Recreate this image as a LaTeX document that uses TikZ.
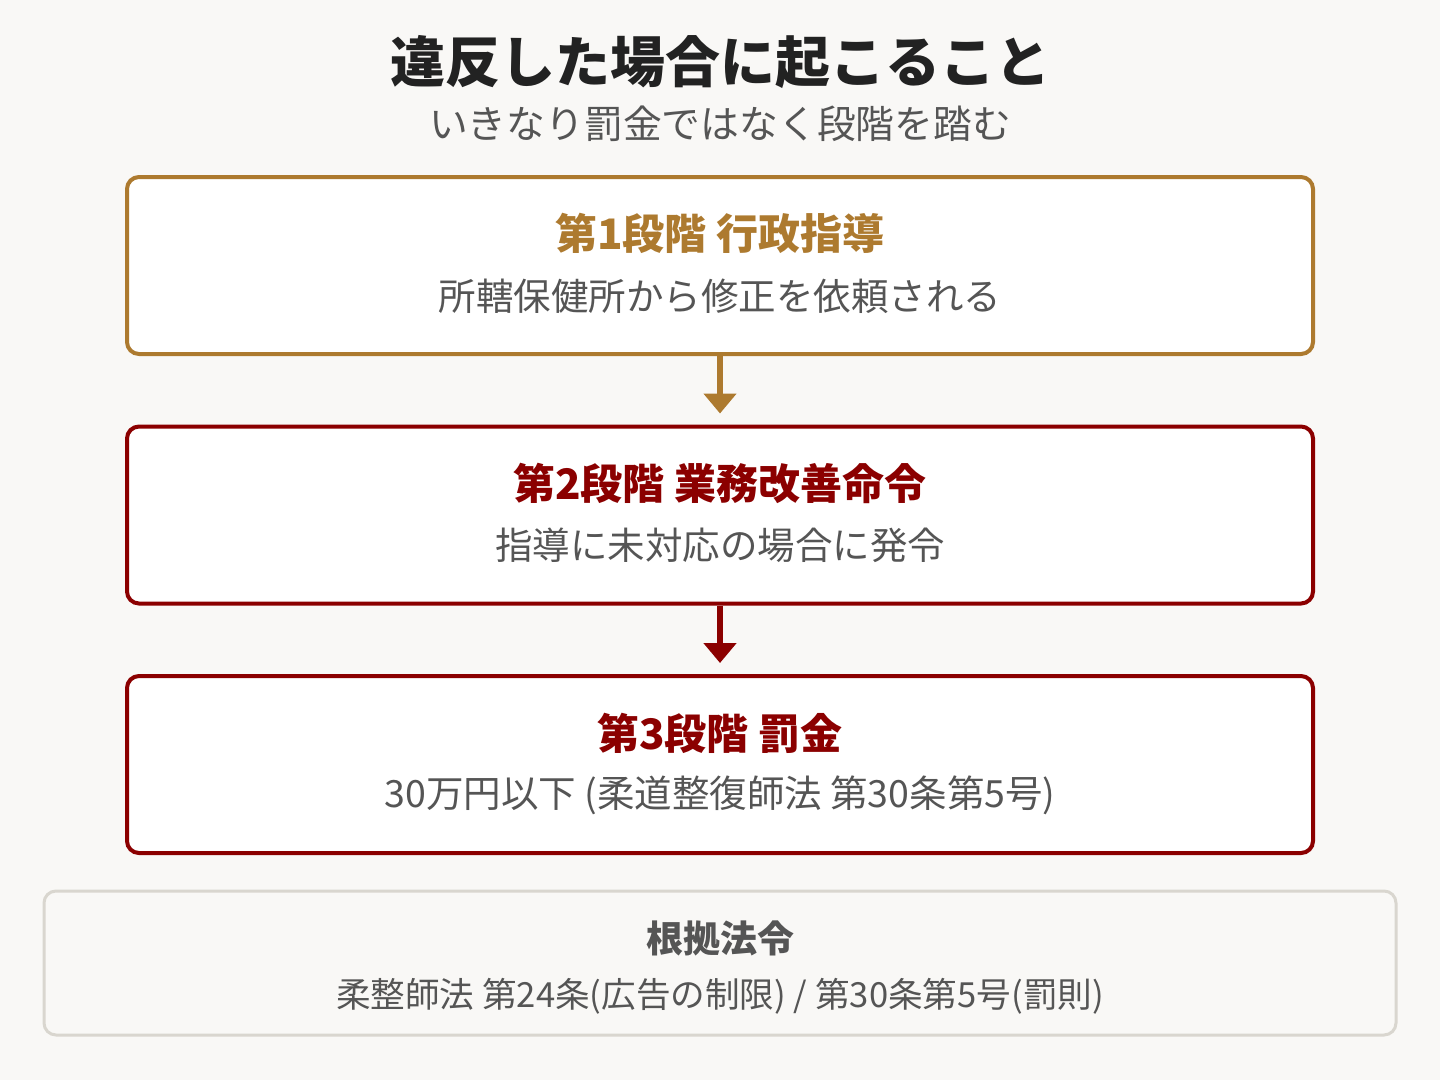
\documentclass[tikz,border=0pt]{standalone}
\usepackage{fontspec}
\setmainfont{Noto Sans CJK JP}
\usepackage{xcolor}
\usetikzlibrary{arrows.meta}

\definecolor{pagebg}{HTML}{F9F8F6}
\definecolor{gold}{HTML}{AD7A2F}
\definecolor{darkred}{HTML}{8B0000}
\definecolor{notegray}{HTML}{555555}
\definecolor{titleink}{HTML}{222222}
\definecolor{lawborder}{HTML}{D9D6CF}

\begin{document}
\begin{tikzpicture}[x=1pt, y=-1pt]
        % Define styles
        \tikzset{
            stage/.style={rectangle, rounded corners=12pt, line width=4pt, fill=white, minimum width=1186pt, minimum height=177pt, inner sep=0pt},
            lawbox/.style={rectangle, rounded corners=12pt, line width=3pt, draw=lawborder, fill=pagebg, minimum width=1352pt, minimum height=144pt, inner sep=0pt},
            stagetitle/.style={font=\bfseries\fontsize{42}{46}\selectfont, inner sep=0pt},
            stagenote/.style={text=notegray, font=\fontsize{37.5}{41}\selectfont, inner sep=0pt},
            arrow/.style={-{Triangle[width=32pt, length=20pt]}, line width=6pt, shorten >=11pt}
        }

        % Background
        \fill[pagebg] (0,0) rectangle (1440,1080);
        \useasboundingbox (0,0) rectangle (1440,1080);

        % Heading
        \node[text=titleink, font=\bfseries\fontsize{55}{60}\selectfont, inner sep=0pt] (main_title) at (720,62) {違反した場合に起こること};
        \node[text=notegray, font=\fontsize{38.8}{42}\selectfont, inner sep=0pt] (main_subtitle) at (720,124) {いきなり罰金ではなく段階を踏む};

        % Stages
        \node[stage, draw=gold] (stage_box_1) at (720,265.5) {};
        \node[stagetitle, text=gold] (stage_title_1) at (720,233) {第1段階 行政指導};
        \node[stagenote] (stage_note_1) at (720,296) {所轄保健所から修正を依頼される};

        \node[stage, draw=darkred] (stage_box_2) at (720,515) {};
        \node[stagetitle, text=darkred] (stage_title_2) at (720,483) {第2段階 業務改善命令};
        \node[stagenote] (stage_note_2) at (720,545) {指導に未対応の場合に発令};

        \node[stage, draw=darkred] (stage_box_3) at (720,764.5) {};
        \node[stagetitle, text=darkred] (stage_title_3) at (720,733) {第3段階 罰金};
        \node[stagenote] (stage_note_3) at (720,795) {30万円以下 (柔道整復師法 第30条第5号)};

        % Arrows
        \draw[arrow, gold] (stage_box_1.south) -- (stage_box_2.north);
        \draw[arrow, darkred] (stage_box_2.south) -- (stage_box_3.north);

        % Legal basis
        \node[lawbox] (law_box) at (720,963) {};
        \node[text=notegray, font=\bfseries\fontsize{37}{40}\selectfont, inner sep=0pt] (law_title) at (720,938) {根拠法令};
        \node[text=notegray, font=\fontsize{34.6}{38}\selectfont, inner sep=0pt] (law_note) at (720,996) {柔整師法 第24条(広告の制限) / 第30条第5号(罰則)};
    \end{tikzpicture}
\end{document}
